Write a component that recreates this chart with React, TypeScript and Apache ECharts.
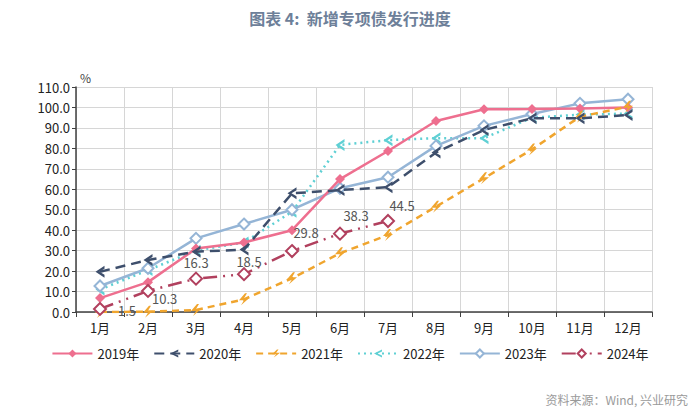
import React, { useEffect, useRef } from "react";
import * as echarts from "echarts";

const months = ["1月", "2月", "3月", "4月", "5月", "6月", "7月", "8月", "9月", "10月", "11月", "12月"];
const years = ["2019年", "2020年", "2021年", "2022年", "2023年", "2024年"];
const s2019 = [6.8, 14.6, 31.0, 34.0, 40.0, 65.0, 78.7, 93.4, 99.1, 99.2, 99.5, 100.0];
const s2020 = [19.7, 25.4, 29.5, 30.5, 58.0, 59.6, 61.0, 78.0, 89.0, 94.7, 94.7, 96.3];
const s2021 = [0.0, 0.1, 1.0, 6.2, 16.5, 28.7, 37.6, 51.5, 65.4, 79.5, 95.5, 100.4];
const s2022 = [11.0, 20.5, 30.0, 34.0, 49.0, 81.7, 84.0, 85.0, 85.0, 95.0, 96.5, 97.0];
const s2023 = [12.7, 21.4, 36.0, 43.0, 50.0, 60.5, 65.9, 81.2, 91.0, 96.8, 102.0, 104.0];
const s2024 = [1.5, 10.3, 16.3, 18.5, 29.8, 38.3, 44.5];
const yTicks = { min: 0, max: 110, interval: 10 };

const colors = ["#ee6f8f", "#3e4f6c", "#f0a52e", "#5fd0d4", "#95b5d6", "#b1405e"];

const chevron = "path://M9,0 L0,6 L9,12 L9,9 L4,6 L9,3 Z";
const bolt = "path://M6,0 L0,7 L5,7 L2,12 L10,5 L5,5 L8,0 Z";

export default function App() {
  const ref = useRef<HTMLDivElement>(null);
  useEffect(() => {
    const chart = echarts.init(ref.current!, null, { renderer: "svg" });
    const font = "'Noto Sans CJK SC', 'Noto Sans', sans-serif";
    const labelCfg = (i: number) => {
      const offs: any[] = [
        { position: "right", offset: [6, 2] },
        { position: "right", offset: [-8, 8] },
        { position: "top", offset: [0, 2] },
        { position: "top", offset: [5, 6] },
        { position: "top", offset: [14, 0] },
        { position: "top", offset: [16, 0] },
        { position: "top", offset: [14, 3] },
      ];
      return offs[i];
    };
    chart.setOption({
      animation: false,
      backgroundColor: "#ffffff",
      textStyle: { fontFamily: font },
      title: {
        text: "图表 4:  新增专项债发行进度",
        left: "center",
        top: 5,
        textStyle: { color: "#6d8099", fontSize: 16, fontWeight: "bold", fontFamily: font },
      },
      grid: { left: 76, right: 48, top: 87, bottom: 107, containLabel: false },
      legend: {
        bottom: 54,
        left: "center",
        itemWidth: 40,
        itemHeight: 10,
        itemGap: 14,
        data: years,
        textStyle: { color: "#222", fontSize: 13, fontFamily: font },
      },
      graphic: [
        { type: "text", left: 80, top: 71, style: { text: "%", fill: "#444", font: `12px ${font}` } },
        {
          type: "text",
          right: 12,
          top: 393,
          style: { text: "资料来源：Wind, 兴业研究", fill: "#9a9a9a", font: `12px ${font}` },
        },
      ],
      xAxis: {
        type: "category",
        data: months,
        boundaryGap: true,
        axisLine: { lineStyle: { color: "#404040", width: 1.5 } },
        axisTick: { show: true, length: 5, lineStyle: { color: "#404040" } },
        splitLine: { show: true, lineStyle: { color: "#d6d6d6", width: 1 } },
        axisLabel: { color: "#222", fontSize: 13, margin: 9, fontFamily: font },
      },
      yAxis: {
        type: "value",
        ...yTicks,
        axisLine: { show: true, lineStyle: { color: "#404040", width: 1.5 } },
        axisTick: { show: true, length: 4, inside: false, lineStyle: { color: "#404040" } },
        splitLine: { show: true, lineStyle: { color: "#d6d6d6", width: 1 } },
        axisLabel: {
          color: "#222",
          fontSize: 13,
          margin: 6,
          fontFamily: font,
          formatter: (v: number) => v.toFixed(1),
        },
      },
      series: [
        {
          name: years[0],
          type: "line",
          data: s2019,
          symbol: "diamond",
          symbolSize: 10,
          color: colors[0],
          lineStyle: { width: 2.5, color: colors[0] },
          itemStyle: { color: colors[0] },
          z: 3,
        },
        {
          name: years[1],
          type: "line",
          data: s2020,
          symbol: chevron,
          symbolSize: [9, 12],
          color: colors[1],
          lineStyle: { width: 2.5, color: colors[1], type: [10, 6] },
          itemStyle: { color: colors[1] },
          z: 4,
        },
        {
          name: years[2],
          type: "line",
          data: s2021,
          symbol: bolt,
          symbolSize: [10, 12],
          color: colors[2],
          lineStyle: { width: 2.5, color: colors[2], type: [7, 5] },
          itemStyle: { color: colors[2] },
          z: 3,
        },
        {
          name: years[3],
          type: "line",
          data: s2022,
          symbol: chevron,
          symbolSize: [9, 12],
          color: colors[3],
          lineStyle: { width: 2.5, color: colors[3], type: [2, 4] },
          itemStyle: { color: colors[3] },
          z: 2,
        },
        {
          name: years[4],
          type: "line",
          data: s2023,
          symbol: "emptyDiamond",
          symbolSize: 11,
          color: colors[4],
          lineStyle: { width: 2.5, color: colors[4] },
          itemStyle: { color: colors[4], borderWidth: 2 },
          z: 2,
        },
        {
          name: years[5],
          type: "line",
          data: s2024.map((v, i) => ({ value: v, label: labelCfg(i) })),
          symbol: "emptyDiamond",
          symbolSize: 12,
          color: colors[5],
          lineStyle: { width: 2.5, color: colors[5], type: [14, 6, 2, 6, 2, 6] },
          itemStyle: { color: colors[5], borderWidth: 2.5 },
          label: {
            show: true,
            color: "#555",
            fontSize: 13,
            fontFamily: font,
            formatter: (p: any) => Number(p.value).toFixed(1),
          },
          z: 5,
        },
      ],
    });
    return () => chart.dispose();
  }, []);
  return (
    <div
      ref={ref}
      style={{ position: "fixed", left: 0, top: 0, width: 700, height: 419, background: "#fff" }}
    />
  );
}
